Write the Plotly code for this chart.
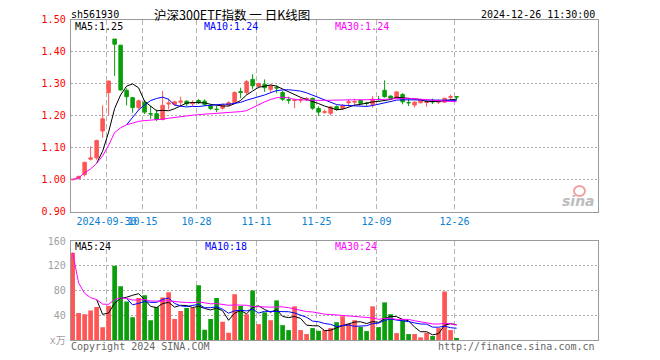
import plotly.graph_objects as go

# ---------------- data ----------------
dates = [
    "2024-09-20", "2024-09-23", "2024-09-24", "2024-09-25", "2024-09-26", "2024-09-27", "2024-09-30",
    "2024-10-08", "2024-10-09", "2024-10-10", "2024-10-11", "2024-10-14", "2024-10-15", "2024-10-16",
    "2024-10-17", "2024-10-18", "2024-10-21", "2024-10-22", "2024-10-23", "2024-10-24", "2024-10-25",
    "2024-10-28", "2024-10-29", "2024-10-30", "2024-10-31",
    "2024-11-01", "2024-11-04", "2024-11-05", "2024-11-06", "2024-11-07", "2024-11-08", "2024-11-11",
    "2024-11-12", "2024-11-13", "2024-11-14", "2024-11-15", "2024-11-18", "2024-11-19", "2024-11-20",
    "2024-11-21", "2024-11-22", "2024-11-25", "2024-11-26", "2024-11-27", "2024-11-28", "2024-11-29",
    "2024-12-02", "2024-12-03", "2024-12-04", "2024-12-05", "2024-12-06", "2024-12-09", "2024-12-10",
    "2024-12-11", "2024-12-12", "2024-12-13", "2024-12-16", "2024-12-17", "2024-12-18", "2024-12-19",
    "2024-12-20", "2024-12-23", "2024-12-24", "2024-12-25", "2024-12-26",
]

opens = [
    1.000, 1.003, 1.016, 1.064, 1.068, 1.152, 1.272,
    1.439, 1.420, 1.279, 1.256, 1.225, 1.242, 1.206, 1.206, 1.188, 1.236, 1.235, 1.242, 1.245, 1.237,
    1.247, 1.245, 1.230, 1.220,
    1.223, 1.233, 1.240, 1.275, 1.272, 1.313, 1.292, 1.298, 1.282, 1.288, 1.272, 1.250, 1.247, 1.248,
    1.251, 1.254, 1.222, 1.210, 1.207, 1.228, 1.222,
    1.240, 1.242, 1.248, 1.239, 1.235, 1.251, 1.279, 1.261, 1.256, 1.266, 1.241, 1.233, 1.240, 1.241,
    1.245, 1.242, 1.242, 1.257, 1.259,
]
highs = [
    1.002, 1.013, 1.056, 1.104, 1.125, 1.232, 1.308,
    1.439, 1.420, 1.285, 1.258, 1.250, 1.248, 1.230, 1.219, 1.277, 1.253, 1.246, 1.259, 1.248, 1.248,
    1.252, 1.251, 1.235, 1.230,
    1.238, 1.245, 1.276, 1.287, 1.311, 1.329, 1.303, 1.313, 1.294, 1.295, 1.277, 1.259, 1.253, 1.256,
    1.258, 1.256, 1.229, 1.219, 1.229, 1.232, 1.236,
    1.251, 1.253, 1.250, 1.242, 1.261, 1.261, 1.310, 1.263, 1.275, 1.270, 1.251, 1.244, 1.252, 1.251,
    1.253, 1.251, 1.256, 1.266, 1.259,
]
lows = [
    0.998, 1.002, 1.010, 1.060, 1.062, 1.131, 1.200,
    1.324, 1.278, 1.232, 1.209, 1.218, 1.205, 1.190, 1.183, 1.185, 1.219, 1.232, 1.230, 1.230, 1.230,
    1.236, 1.230, 1.217, 1.211,
    1.219, 1.229, 1.238, 1.254, 1.266, 1.282, 1.285, 1.274, 1.272, 1.270, 1.246, 1.237, 1.223, 1.240,
    1.246, 1.218, 1.199, 1.206, 1.201, 1.215, 1.218,
    1.230, 1.230, 1.235, 1.230, 1.225, 1.246, 1.256, 1.250, 1.254, 1.235, 1.230, 1.225, 1.238, 1.228,
    1.236, 1.236, 1.240, 1.249, 1.249,
]
closes = [
    1.001, 1.010, 1.054, 1.068, 1.122, 1.190, 1.308,
    1.423, 1.280, 1.259, 1.225, 1.246, 1.211, 1.205, 1.188, 1.232, 1.239, 1.243, 1.245, 1.237, 1.241,
    1.241, 1.235, 1.222, 1.219,
    1.233, 1.240, 1.272, 1.272, 1.306, 1.293, 1.300, 1.287, 1.293, 1.286, 1.251, 1.248, 1.250, 1.250,
    1.253, 1.223, 1.211, 1.212, 1.227, 1.219, 1.231,
    1.243, 1.244, 1.238, 1.238, 1.251, 1.250, 1.259, 1.254, 1.274, 1.243, 1.240, 1.242, 1.250, 1.243,
    1.243, 1.244, 1.254, 1.259, 1.258,
]
volumes = [
    141, 43.7, 41.6, 47.5, 53.3, 20.8, 55.5,
    120, 86.9, 62.4, 36.8, 67.7, 72.5, 32, 53.3, 68.8, 77.3, 34.1, 46.9, 51.7, 51.7,
    88.5, 16.5, 34.1, 67.7,
    29.3, 11.7, 74.1, 54.9, 41.6, 80, 25.6, 44.8, 32, 64, 24, 16, 54.4, 16,
    9.6, 19.2, 14.9, 16, 19.2, 28.8, 38.4,
    26.7, 32, 21.3, 14.4, 54.4, 20.8, 60.8, 41.6, 11.2, 32, 9.6, 9.6, 4.3, 11.7,
    6.4, 19.2, 78.4, 16, 3.2,
]

tick_dates = ["2024-09-30", "2024-10-15", "2024-10-28", "2024-11-11", "2024-11-25", "2024-12-09", "2024-12-26"]
tick_labels = ["2024-09-30", "10-15", "10-28", "11-11", "11-25", "12-09", "12-26"]
price_ticks = [0.90, 1.00, 1.10, 1.20, 1.30, 1.40, 1.50]
vol_ticks = [0, 40, 80, 120, 160]
vol_tick_labels = ["x万", "40", "80", "120", "160"]

# ---------------- helpers ----------------
OFF = 8                      # the page body margin that the browser adds
W, H = 660 - OFF, 360 - OFF  # figure size so that figure + margin fills the window
RED = "#ff5555"
GREEN = "#0a9e0a"
MONO = "DejaVu Sans Mono, Noto Sans CJK SC"


def px(x):
    return (x - OFF) / W


def py(y):
    return 1 - (y - OFF) / H


def moving_average(vals, n, cumulative=False):
    out = []
    for i in range(len(vals)):
        if i + 1 >= n:
            seg = vals[i - n + 1:i + 1]
            out.append(sum(seg) / n)
        elif cumulative:
            seg = vals[:i + 1]
            out.append(sum(seg) / len(seg))
        else:
            out.append(None)
    return out


idx = list(range(len(dates)))
tickvals = [dates.index(d) - 0.35 for d in tick_dates]
xrange_ = [-0.32, 87.52]

fig = go.Figure()

# price panel
fig.add_trace(go.Candlestick(
    x=idx, open=opens, high=highs, low=lows, close=closes,
    increasing=dict(line=dict(color=RED, width=1), fillcolor=RED),
    decreasing=dict(line=dict(color=GREEN, width=1), fillcolor=GREEN),
    whiskerwidth=0, xaxis="x", yaxis="y", showlegend=False, hoverinfo="skip",
))
for n, col, cum in [(5, "#000000", False), (10, "#0000ff", False), (30, "#ff00ff", True)]:
    fig.add_trace(go.Scatter(
        x=idx, y=moving_average(closes, n, cum), mode="lines",
        line=dict(color=col, width=1), xaxis="x", yaxis="y",
        showlegend=False, hoverinfo="skip", connectgaps=False,
    ))

# volume panel
vol_colors = [RED if c >= o else GREEN for o, c in zip(opens, closes)]
fig.add_trace(go.Bar(
    x=idx, y=volumes, marker=dict(color=vol_colors, line=dict(width=0)),
    width=0.78, xaxis="x2", yaxis="y2", showlegend=False, hoverinfo="skip",
))
for n, col, cum in [(5, "#000000", False), (10, "#0000ff", False), (30, "#ff00ff", True)]:
    fig.add_trace(go.Scatter(
        x=idx, y=moving_average(volumes, n, cum), mode="lines",
        line=dict(color=col, width=1), xaxis="x2", yaxis="y2",
        showlegend=False, hoverinfo="skip",
    ))

xdom = [px(70.7), px(597.7)]
common_x = dict(
    range=xrange_, domain=xdom, tickmode="array", tickvals=tickvals,
    showgrid=True, gridcolor="#b4b4b4", griddash="5px,3px", gridwidth=1,
    showline=True, linecolor="#9a9a9a", linewidth=1, mirror=True,
    zeroline=False, ticks="", fixedrange=True, automargin=False, tickangle=0,
)
common_y = dict(
    tickmode="array", showgrid=True, gridcolor="#ababab", griddash="2px,2px", gridwidth=1,
    showline=True, linecolor="#9a9a9a", linewidth=1, mirror=True,
    zeroline=False, ticks="", ticklabelstandoff=2, fixedrange=True, automargin=False,
)

fig.update_layout(
    width=W, height=H, autosize=False,
    margin=dict(l=0, r=0, t=0, b=0, pad=0),
    paper_bgcolor="white", plot_bgcolor="white",
    boxgap=0.17,
    xaxis=dict(**common_x, ticktext=tick_labels, rangeslider=dict(visible=False),
               tickfont=dict(family=MONO, size=10, color="#0a80d2"), anchor="y"),
    yaxis=dict(**common_y, domain=[py(211.7), py(19.5)], range=[0.90, 1.50],
               tickvals=price_ticks, ticktext=["%.2f" % v for v in price_ticks],
               tickfont=dict(family=MONO, size=10, color="#ff0000"), anchor="x"),
    xaxis2=dict(**common_x, ticktext=[""] * len(tick_labels), showticklabels=False, anchor="y2"),
    yaxis2=dict(**common_y, domain=[py(340), py(241)], range=[0, 160],
                tickvals=vol_ticks, ticktext=vol_tick_labels,
                tickfont=dict(family=MONO, size=10, color="#a0a0a0"), anchor="x2"),
)


def note(text, x, y, color="#000000", size=10, family=MONO, anchor="left", **kw):
    fig.add_annotation(text=text, x=px(x), y=py(y), xref="paper", yref="paper",
                       xanchor=anchor, yanchor="middle", showarrow=False,
                       font=dict(family=family, size=size, color=color), **kw)


# header
note("sh561930", 69, 14)
note("沪深300ETF指数 一 日K线图", 232, 14, size=12.5, family="Noto Sans CJK SC",
     anchor="center", borderpad=0)
note("2024-12-26 11:30:00", 597, 14, anchor="right")

# MA labels, price
note("MA5:1.25", 73, 26)
note("MA10:1.24", 203, 26, color="#0000ff", borderpad=0)
note("MA30:1.24", 333, 26, color="#ff00ff")
# MA labels, volume
note("MA5:24", 73, 246)
note("MA10:18", 203, 246, color="#0000ff")
note("MA30:24", 333, 246, color="#ff00ff")

# footer
note("Copyright 2024 SINA.COM", 69, 346, color="#666666")
note("http://finance.sina.com.cn", 597, 346, color="#666666", anchor="right")

# sina watermark
fig.add_shape(type="circle", xref="paper", yref="paper",
              x0=px(574), x1=px(585), y0=py(196), y1=py(186),
              line=dict(color="#f2a0a0", width=2), fillcolor="rgba(0,0,0,0)")
note("<b><i>sina</i></b>", 597, 201, color="#bdbdbd", size=14, family="DejaVu Sans", anchor="right")

fig.write_html("out.html")
